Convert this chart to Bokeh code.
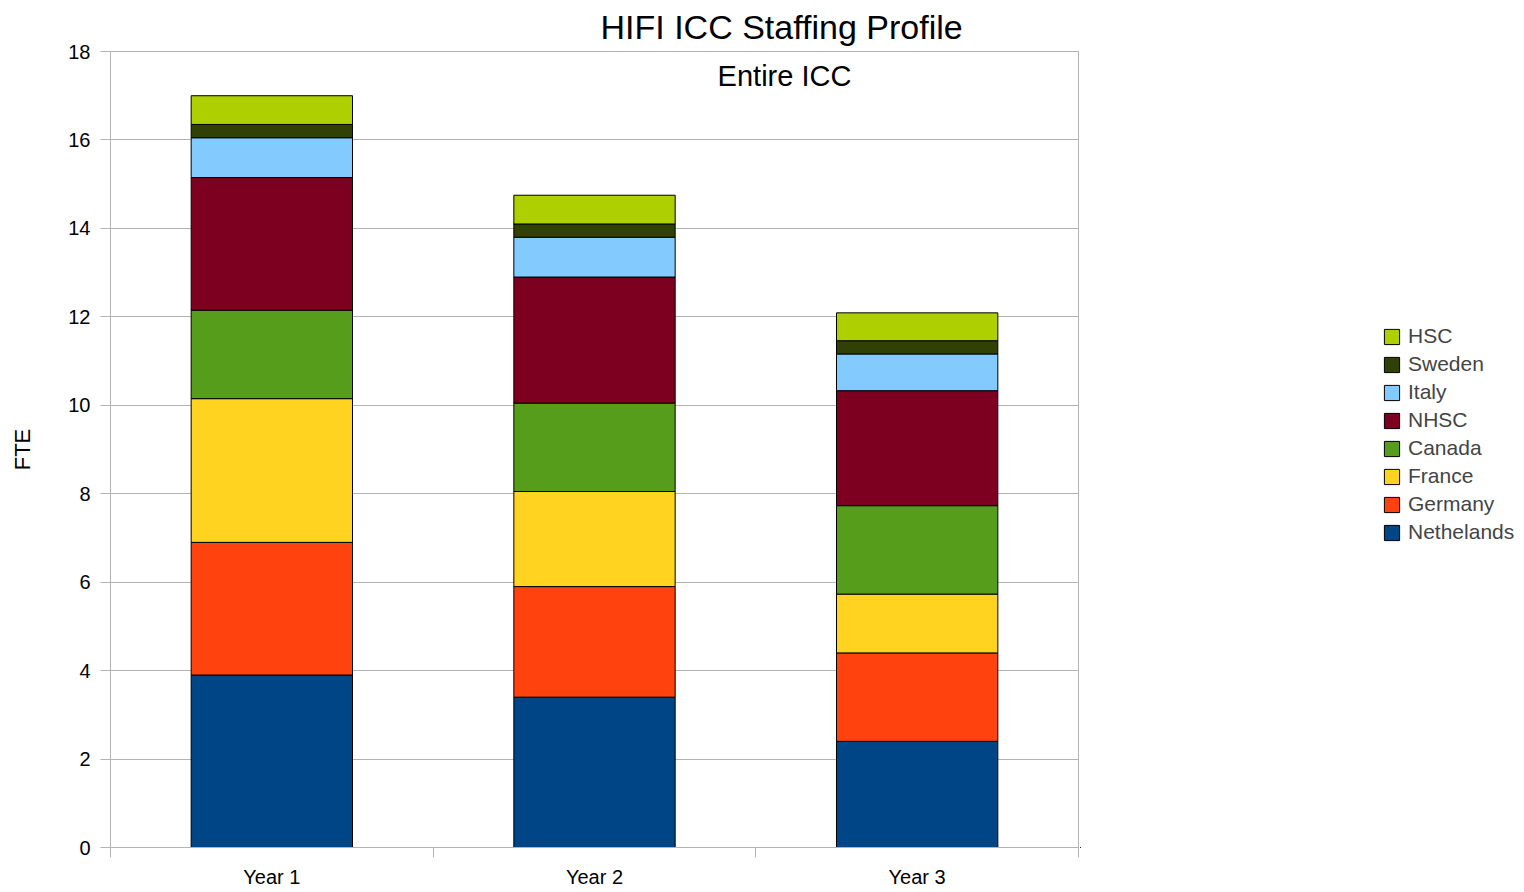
from bokeh.plotting import figure
from bokeh.layouts import row
from bokeh.models import ColumnDataSource, FixedTicker, Legend, LegendItem, Label, Range1d, Title
from bokeh.embed import file_html
from bokeh.resources import INLINE

years = ["Year 1", "Year 2", "Year 3"]
nethelands = [3.9, 3.4, 2.4]
germany = [3.0, 2.5, 2.0]
france = [3.25, 2.15, 1.33]
canada = [2.0, 2.0, 2.0]
nhsc = [3.0, 2.85, 2.6]
italy = [0.9, 0.9, 0.83]
sweden = [0.3, 0.3, 0.3]
hsc = [0.65, 0.65, 0.63]

series_names = ["Nethelands", "Germany", "France", "Canada", "NHSC", "Italy", "Sweden", "HSC"]
series_values = [nethelands, germany, france, canada, nhsc, italy, sweden, hsc]
colors = ["#004586", "#ff420e", "#ffd320", "#579d1c", "#7e0021", "#83caff", "#314004", "#aecf00"]

FONT = "Liberation Sans"
GRAY = "#b3b3b3"
H = 890

xpos = [i + 0.5 for i in range(len(years))]
data = {"x": xpos}
for n, v in zip(series_names, series_values):
    data[n] = v
source = ColumnDataSource(data)

p = figure(width=1080, height=H, output_backend="svg", toolbar_location=None,
           x_range=Range1d(0, len(years)), y_range=Range1d(0, 18),
           min_border_left=110, min_border_top=51, min_border_bottom=42, min_border_right=2)

renderers = p.vbar_stack(series_names, x="x", width=0.5, source=source,
                         fill_color=colors, line_color="black", line_width=1)

# axes
xa = p.xaxis[0]
xa.ticker = FixedTicker(ticks=xpos, minor_ticks=list(range(len(years) + 1)))
xa.major_label_overrides = {x: y for x, y in zip(xpos, years)}
xa.major_tick_out = 0
xa.major_tick_in = 0
xa.minor_tick_out = 10
xa.minor_tick_in = 0
xa.minor_tick_line_color = GRAY
xa.axis_line_color = GRAY
xa.major_label_standoff = 8
xa.major_label_text_font = FONT
xa.major_label_text_font_size = "20px"
xa.major_label_text_color = "black"

ya = p.yaxis[0]
ya.ticker = FixedTicker(ticks=list(range(0, 19, 2)))
ya.major_tick_out = 10
ya.major_tick_in = 0
ya.minor_tick_line_color = None
ya.major_tick_line_color = GRAY
ya.axis_line_color = GRAY
ya.major_label_standoff = 10
ya.major_label_text_font = FONT
ya.major_label_text_font_size = "20px"
ya.major_label_text_color = "black"
ya.axis_label = "FTE"
ya.axis_label_text_font = FONT
ya.axis_label_text_font_size = "22px"
ya.axis_label_text_font_style = "normal"
ya.axis_label_text_color = "black"
ya.axis_label_standoff = 30

p.xgrid.grid_line_color = None
p.ygrid.ticker = FixedTicker(ticks=list(range(0, 19, 2)))
p.ygrid.grid_line_color = GRAY
p.outline_line_color = GRAY
p.background_fill_color = "white"

# title and subtitle
p.add_layout(Title(text="HIFI ICC Staffing Profile", align="left", offset=490,
                   vertical_align="top", text_line_height=0.9,
                   text_font=FONT, text_font_size="34px", text_font_style="normal",
                   text_color="black", standoff=8), "above")
p.add_layout(Label(x=674, y=772, x_units="screen", y_units="screen", text="Entire ICC",
                   text_font=FONT, text_font_size="29px", text_align="center",
                   text_baseline="middle", text_color="black"))

# legend panel
lp = figure(width=440, height=H, output_backend="svg", toolbar_location=None,
            x_range=Range1d(0, 1), y_range=Range1d(0, 1),
            min_border_left=0, min_border_right=0, min_border_top=0, min_border_bottom=0)
lp.axis.visible = False
lp.grid.grid_line_color = None
lp.outline_line_color = None
legend_renderers = [lp.vbar(x=[-5], top=[0], bottom=[0], width=0.0, fill_color=c,
                            line_color="black", line_width=1) for c in colors]
items = [LegendItem(label=n, renderers=[r]) for n, r in zip(series_names, legend_renderers)][::-1]
legend = Legend(items=items, location=(302, H - 587), border_line_color=None,
                background_fill_alpha=0, glyph_width=19, glyph_height=19,
                label_text_font=FONT, label_text_font_size="21px", label_height=24,
                spacing=4, padding=4, margin=0, label_standoff=7)
lp.add_layout(legend, "center")

layout = row(p, lp, spacing=0)
open("out.html", "w").write(file_html(layout, INLINE))
